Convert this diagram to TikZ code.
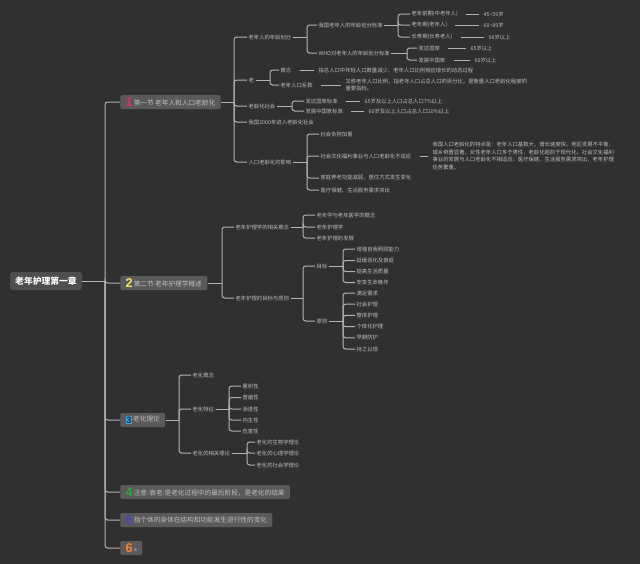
\documentclass[tikz,border=0pt]{standalone}
\usepackage{fontspec}
\newfontfamily\cjk{Noto Sans CJK SC}
\newfontfamily\mkfont{Liberation Sans}
\definecolor{bg}{HTML}{303030}
\definecolor{ln}{HTML}{B4B4B4}
\definecolor{tx}{HTML}{BEBEBE}
\definecolor{secfill}{HTML}{5A5A5A}
\definecolor{rootfill}{HTML}{4E4E4E}
\definecolor{mred}{HTML}{F0285F}
\definecolor{myel}{HTML}{F5E65E}
\definecolor{mblue}{HTML}{3DA5E0}
\definecolor{mbluedk}{HTML}{17324D}
\definecolor{mgreen}{HTML}{2EA843}
\definecolor{mind}{HTML}{4545C8}
\definecolor{morange}{HTML}{F7852C}
\newcommand\lf{\cjk\fontsize{4}{5.6}\selectfont}
\newcommand\mkr[2]{\raisebox{-1pt}{\textcolor{#1}{\mkfont\bfseries\fontsize{9.5}{9.5}\selectfont #2}}}
\newcommand\mkbox[1]{{\setlength\fboxsep{0.5pt}\raisebox{-1.1pt}{\colorbox{mblue}{\textcolor{mbluedk}{\mkfont\bfseries\fontsize{7}{7}\selectfont #1}}}}}
\newcommand\brc[3]{\draw[conn] (#1.east) -- (#1.east -| #2);\draw[conn] (#1.east -| #2) |- (#3.west);}
\begin{document}
\begin{tikzpicture}[x=0.75pt,y=-0.75pt,
  leaf/.style={font=\lf,text=tx,inner sep=1pt,anchor=west},
  para/.style={leaf,align=left},
  sec/.style={font=\cjk\fontsize{5}{6}\selectfont,text=tx,fill=secfill,rounded corners=1pt,inner xsep=4pt,inner ysep=1pt,minimum height=10.5pt,anchor=west},
  rootbox/.style={font=\cjk\bfseries\fontsize{6.6}{8}\selectfont,text=white,fill=rootfill,rounded corners=2pt,minimum width=54pt,minimum height=13.5pt,inner sep=2pt},
  conn/.style={draw=ln,line width=0.75pt,rounded corners=2pt},
  lk/.style={draw=ln,line width=0.75pt,shorten <=5pt,shorten >=2pt}
]
\useasboundingbox (0,0) rectangle (640,564);
\fill[bg] (0,0) rectangle (640,564);

% branch x positions
\coordinate (t0) at (105,0);
\coordinate (t1) at (234,0);
\coordinate (t2) at (222,0);
\coordinate (t3) at (179,0);
\coordinate (b11) at (307,0);
\coordinate (b111) at (398,0);
\coordinate (b112) at (407,0);
\coordinate (b12) at (270,0);
\coordinate (b13) at (292,0);
\coordinate (b15) at (307,0);
\coordinate (b21) at (303,0);
\coordinate (b22) at (303,0);
\coordinate (b221) at (343,0);
\coordinate (b222) at (343,0);
\coordinate (b32) at (229,0);
\coordinate (b33) at (247,0);

% root and sections
\node[rootbox] (root) at (46,281) {老年护理第一章};
\node[sec] (s1) at (120,102) {\mkr{mred}{1}\,第一节 老年人和人口老龄化};
\node[sec] (s2) at (120,283) {\mkr{myel}{2}\,第二节 老年护理学概述};
\node[sec] (s3) at (120,420) {\mkbox{3}\,老化理论};
\node[sec] (s4) at (120,492) {\mkr{mgreen}{4}\,注意-衰老:是老化过程中的最后阶段，是老化的结果};
\node[sec] (s5) at (120,520) {\mkr{mind}{5}\,指个体的身体在结构和功能发生退行性的变化};
\node[sec] (s6) at (120,548) {\mkr{morange}{6}\,{\fontsize{4}{5}\selectfont a}};
\foreach \s in {s1,s2,s3,s4,s5,s6}{\brc{root}{t0}{\s}}

% section 1
\node[leaf] (n11) at (247,37) {老年人的年龄划分};
\node[leaf] (n12) at (247,80) {老};
\node[leaf] (n13) at (247,106) {老龄化社会};
\node[leaf] (n14) at (247,122) {我国2000年进入老龄化社会};
\node[leaf] (n15) at (247,162) {人口老龄化的影响};
\foreach \c in {n11,n12,n13,n14,n15}{\brc{s1}{t1}{\c}}

\node[leaf] (n111) at (317,25) {我国老年人的年龄划分标准};
\node[leaf] (n112) at (317,53) {WHO对老年人的年龄划分标准};
\brc{n11}{b11}{n111}\brc{n11}{b11}{n112}

\node[leaf] (a1) at (410,14) {老年前期(中老年人)};
\node[leaf] (a2) at (410,25) {老年期(老年人)};
\node[leaf] (a3) at (410,37) {长寿期(长寿老人)};
\foreach \c in {a1,a2,a3}{\brc{n111}{b111}{\c}}
\node[leaf] (v1) at (482,14) {45\textasciitilde 59岁};
\node[leaf] (v2) at (482,25) {60\textasciitilde 89岁};
\node[leaf] (v3) at (487,37) {90岁以上};
\draw[lk] (a1) -- (v1);
\draw[lk] (a2) -- (v2);
\draw[lk] (a3) -- (v3);

\node[leaf] (w1) at (417,48) {发达国家};
\node[leaf] (w2) at (417,60) {发展中国家};
\brc{n112}{b112}{w1}\brc{n112}{b112}{w2}
\node[leaf] (wv1) at (469,48) {65岁以上};
\node[leaf] (wv2) at (473,60) {60岁以上};
\draw[lk] (w1) -- (wv1);
\draw[lk] (w2) -- (wv2);

\node[leaf] (c1) at (279,70) {概念};
\node[leaf] (c2) at (279,85) {老年人口系数};
\brc{n12}{b12}{c1}\brc{n12}{b12}{c2}
\node[leaf] (cd1) at (317,70) {指总人口中年轻人口数量减少、老年人口比例相应增长的动态过程};
\node[para] (cd2) at (344,85) {又称老年人口比例，指老年人口占总人口的百分比，是衡量人口老龄化程度的\\重要指标。};
\draw[lk] (c1) -- (cd1);
\draw[lk] (c2) -- (c2 -| cd2.west);

\node[leaf] (q1) at (304,101) {发达国家标准};
\node[leaf] (q2) at (304,111) {发展中国家标准};
\brc{n13}{b13}{q1}\brc{n13}{b13}{q2}
\node[leaf] (qv1) at (363,101) {65岁及以上人口占总人口7\%以上};
\node[leaf] (qv2) at (367,111) {60岁及以上人口占总人口10\%以上};
\draw[lk] (q1) -- (qv1);
\draw[lk] (q2) -- (qv2);

\node[leaf] (i1) at (319,134) {社会负担加重};
\node[leaf] (i2) at (319,156) {社会文化福利事业与人口老龄化不适应};
\node[leaf] (i3) at (319,178) {家庭养老功能减弱，居住方式发生变化};
\node[leaf] (i4) at (319,190) {医疗保健、生活服务需求突出};
\foreach \c in {i1,i2,i3,i4}{\brc{n15}{b15}{\c}}
\node[para] (id2) at (431,156) {我国人口老龄化的特点是：老年人口基数大，增长速度快，地区发展不平衡，\\城乡倒置显著，女性老年人口多于男性，老龄化超前于现代化。社会文化福利\\事业的发展与人口老龄化不相适应，医疗保健、生活服务需求突出，老年护理\\任务繁重。};
\draw[lk] (i2) -- (i2 -| id2.west);

% section 2
\node[leaf] (m1) at (234,227) {老年护理学的相关概念};
\node[leaf] (m2) at (234,298) {老年护理的目标与原则};
\brc{s2}{t2}{m1}\brc{s2}{t2}{m2}
\node[leaf] (k1) at (315,215) {老年学与老年医学的概念};
\node[leaf] (k2) at (315,227) {老年护理学};
\node[leaf] (k3) at (315,238) {老年护理的发展};
\foreach \c in {k1,k2,k3}{\brc{m1}{b21}{\c}}
\node[leaf] (g1) at (315,266) {目标};
\node[leaf] (g2) at (315,321) {原则};
\brc{m2}{b22}{g1}\brc{m2}{b22}{g2}
\node[leaf] (o1) at (355,249) {增强自我照顾能力};
\node[leaf] (o2) at (355,260.5) {延缓恶化及衰退};
\node[leaf] (o3) at (355,271.5) {提高生活质量};
\node[leaf] (o4) at (355,282.5) {安享生命晚年};
\foreach \c in {o1,o2,o3,o4}{\brc{g1}{b221}{\c}}
\node[leaf] (p1) at (355,293) {满足需求};
\node[leaf] (p2) at (355,304.2) {社会护理};
\node[leaf] (p3) at (355,315.4) {整体护理};
\node[leaf] (p4) at (355,326.6) {个体化护理};
\node[leaf] (p5) at (355,337.8) {早期防护};
\node[leaf] (p6) at (355,349) {持之以恒};
\foreach \c in {p1,p2,p3,p4,p5,p6}{\brc{g2}{b222}{\c}}

% section 3
\node[leaf] (r1) at (191,375) {老化概念};
\node[leaf] (r2) at (191,409) {老化特征};
\node[leaf] (r3) at (191,453) {老化的相关理论};
\foreach \c in {r1,r2,r3}{\brc{s3}{t3}{\c}}
\node[leaf] (e1) at (241,386) {累积性};
\node[leaf] (e2) at (241,397.5) {普遍性};
\node[leaf] (e3) at (241,409) {渐进性};
\node[leaf] (e4) at (241,420) {内生性};
\node[leaf] (e5) at (241,431) {危害性};
\foreach \c in {e1,e2,e3,e4,e5}{\brc{r2}{b32}{\c}}
\node[leaf] (h1) at (255,442) {老化的生物学理论};
\node[leaf] (h2) at (255,453) {老化的心理学理论};
\node[leaf] (h3) at (255,465) {老化的社会学理论};
\foreach \c in {h1,h2,h3}{\brc{r3}{b33}{\c}}
\end{tikzpicture}
\end{document}
